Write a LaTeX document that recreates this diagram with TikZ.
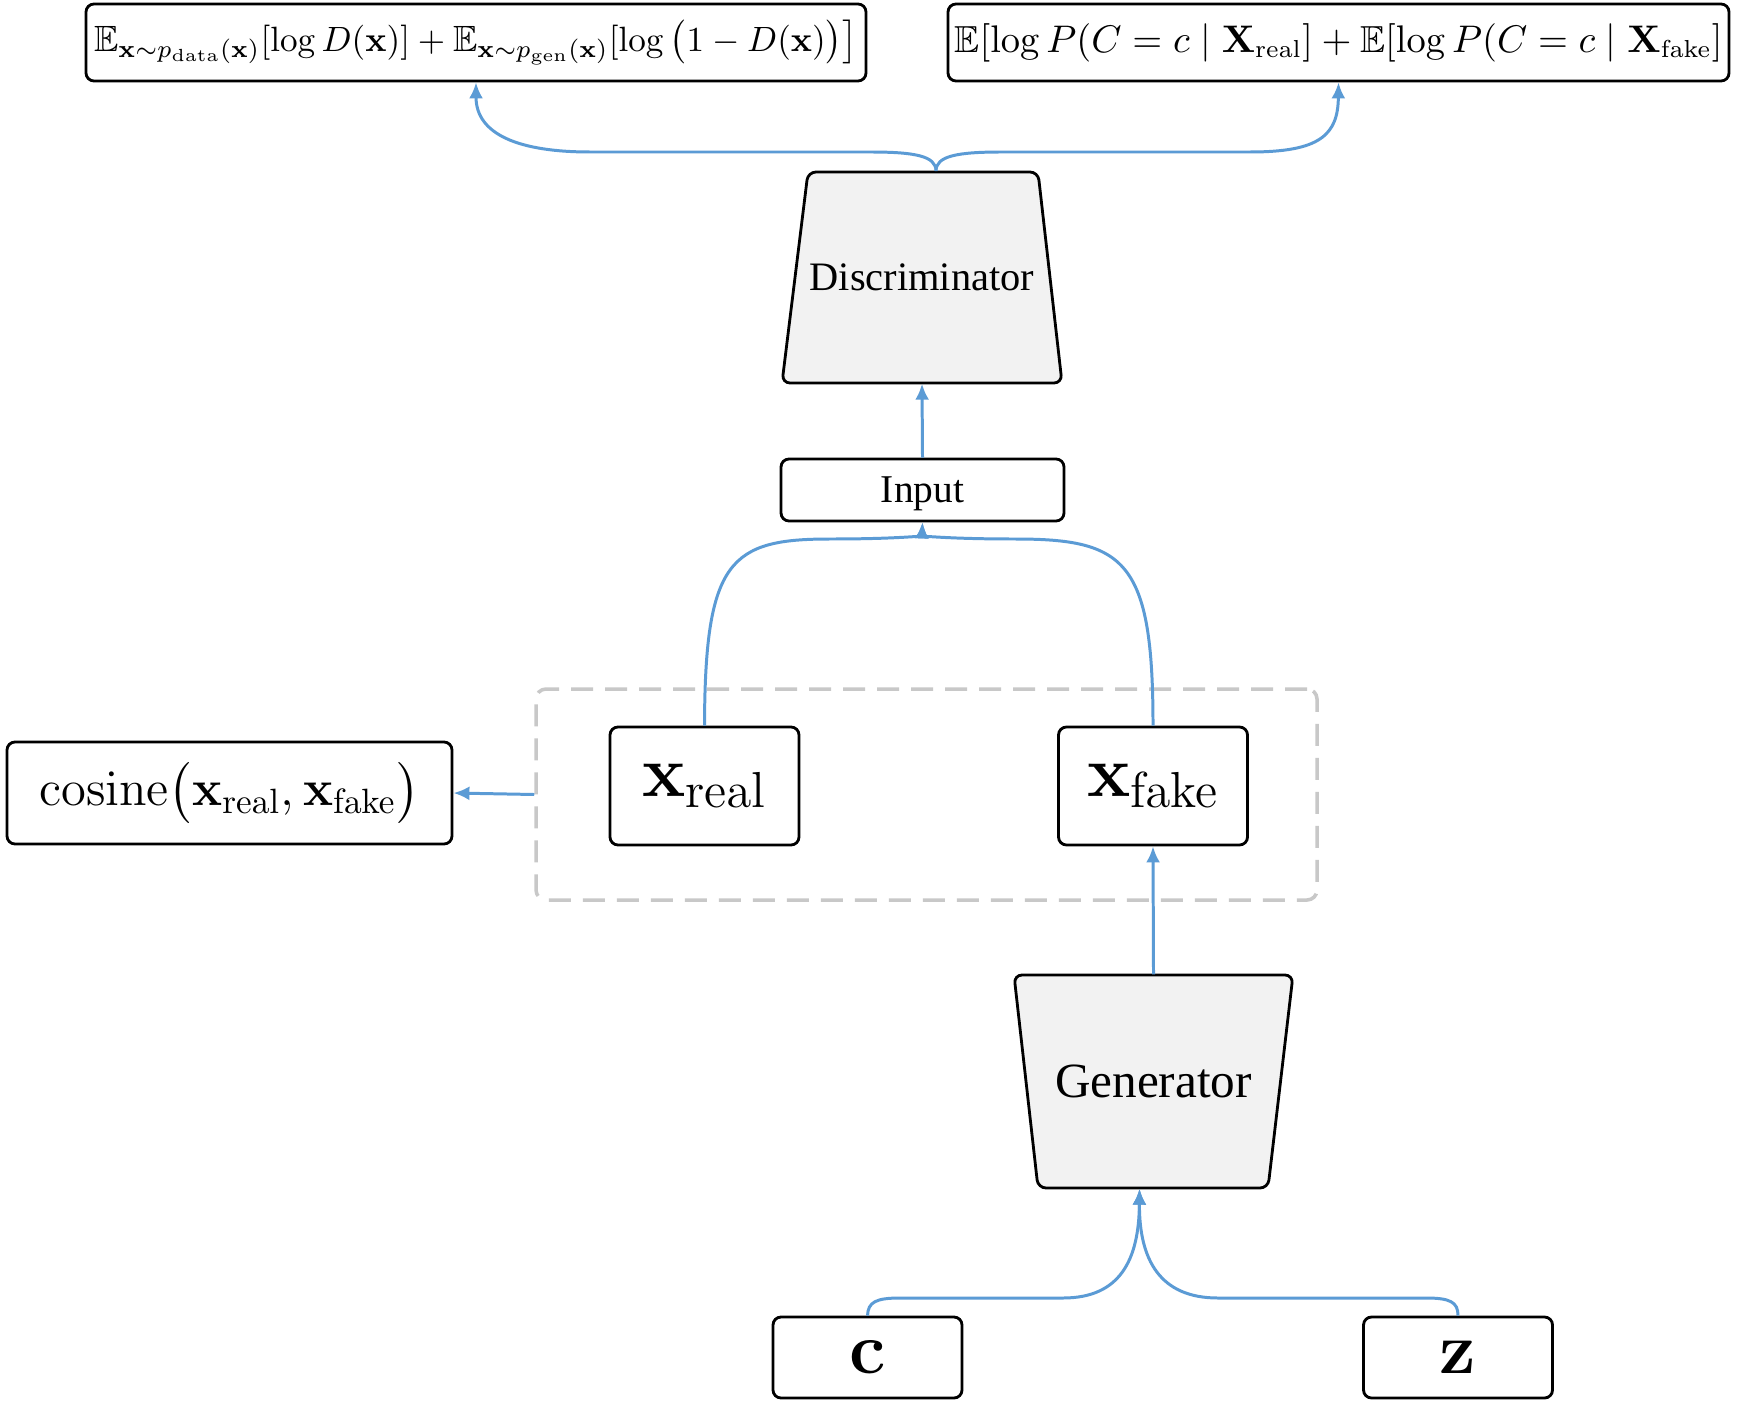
\documentclass[tikz,border=0pt]{standalone}
\usepackage{amsmath,amssymb}
\usepackage[no-math]{fontspec}
\newfontfamily\tnr{Liberation Serif}
\usetikzlibrary{arrows.meta,calc}
\definecolor{conncol}{HTML}{5B9BD5}
\definecolor{boxfill}{HTML}{F2F2F2}
\definecolor{dashgray}{HTML}{C8C8C8}
\begin{document}
\begin{tikzpicture}[x=0.1mm,y=-0.1mm,
  box/.style={draw=black, line width=0.8pt, rounded corners=0.8mm, fill=white, inner sep=0pt},
  trapbody/.style={draw=black, line width=0.8pt, rounded corners=0.8mm, fill=boxfill},
  traptext/.style={inner sep=0pt},
  conn/.style={draw=conncol, line width=0.85pt},
  arr/.style={conn, -{Latex[length=1.6mm,width=1.4mm]}},
]
\useasboundingbox[fill=white] (0,0) rectangle (1737,1408);

% group (dashed)
\node[draw=dashgray, line width=1pt, dash pattern=on 2.2mm off 1.2mm, rounded corners=1mm,
      minimum width=78.1mm, minimum height=21.1mm, inner sep=0pt] (grp) at (926.5,794.5) {};

% objective boxes
\node[box, minimum width=78mm, minimum height=7.7mm] (F1) at (476,42.5)
  {\fontsize{10.4}{12}\selectfont $\mathbb{E}_{\mathbf{x}\sim p_{\mathrm{data}}(\mathbf{x})}[\log D(\mathbf{x})] + \mathbb{E}_{\mathbf{x}\sim p_{\mathrm{gen}}(\mathbf{x})}[\log\,\bigl(1-D(\mathbf{x})\bigr)\bigr]$};
\node[box, minimum width=78.1mm, minimum height=7.7mm] (F2) at (1338.5,42.5)
  {\fontsize{10.7}{12}\selectfont $\mathbb{E}[\log P(C=c\mid\mathbf{X}_{\mathrm{real}}]+\mathbb{E}[\log P(C=c\mid\mathbf{X}_{\mathrm{fake}}]$};

% discriminator
\draw[trapbody] (808,172) -- (1038,172) -- (1062,383) -- (782,383) -- cycle;
\node[traptext, minimum width=28mm, minimum height=21.1mm] (D) at (922,277.5)
  {\fontsize{11.5}{14}\selectfont\tnr Discriminator};

% input
\node[box, minimum width=28.3mm, minimum height=6.2mm, text height=3.2mm, text depth=0.8mm] (In) at (922.5,490)
  {\fontsize{11.2}{13}\selectfont\tnr Input};

% samples
\node[box, minimum width=18.9mm, minimum height=11.8mm] (XR) at (704.5,786)
  {\fontsize{20}{24}\selectfont $\mathbf{x}_{\mathrm{real}}$};
\node[box, minimum width=18.9mm, minimum height=11.8mm] (XF) at (1153,786)
  {\fontsize{20}{24}\selectfont $\mathbf{x}_{\mathrm{fake}}$};

% cosine
\node[box, minimum width=44.5mm, minimum height=10.2mm] (COS) at (229.5,793)
  {\fontsize{14.5}{17}\selectfont $\mathrm{cosine}\bigl(\mathbf{x}_{\mathrm{real}},\mathbf{x}_{\mathrm{fake}}\bigr)$};

% generator
\draw[trapbody] (1014,975) -- (1293,975) -- (1268,1188) -- (1038,1188) -- cycle;
\node[traptext, minimum width=27.9mm, minimum height=21.3mm] (GEN) at (1153.5,1081.5)
  {\fontsize{14}{17}\selectfont\tnr Generator};

% latent inputs
\node[box, minimum width=18.9mm, minimum height=8.1mm] (C) at (867.5,1357.5)
  {\fontsize{20}{24}\selectfont $\mathbf{c}$};
\node[box, minimum width=18.9mm, minimum height=8.1mm] (Z) at (1458,1357.5)
  {\fontsize{20}{24}\selectfont $\mathbf{z}$};

% connectors
\coordinate (ds) at (936,171);
\draw[arr] (ds) .. controls (936,156) and (915,152) .. (870,152) -- (590,152)
  .. controls (520,152) and (476,135) .. (F1.south);
\draw[arr] (ds) .. controls (936,156) and (957,152) .. (1002,152) -- (1250,152)
  .. controls (1320,152) and (1338,135) .. (F2.south);

\draw[arr] (In.north) -- (D.south);

\draw[arr] (XR.north) .. controls (705,560) and (730,539) .. (830,539)
  .. controls (905,539) and (922,535) .. (In.south);
\draw[arr] (XF.north) .. controls (1153,560) and (1125,539) .. (1015,539)
  .. controls (940,539) and (922,535) .. (In.south);

\draw[arr] (grp.west) -- (COS.east);

\draw[arr] (GEN.north) -- (XF.south);

\coordinate (gb) at ($(GEN.south)+(-14,0)$);
\draw[arr] (C.north) .. controls (868,1302) and (876,1298) .. (900,1298) -- (1063,1298)
  .. controls (1120,1298) and (1139,1260) .. (gb);
\draw[arr] (Z.north) .. controls (1458,1302) and (1450,1298) .. (1426,1298) -- (1218,1298)
  .. controls (1160,1298) and (1139,1260) .. (gb);
\end{tikzpicture}
\end{document}
